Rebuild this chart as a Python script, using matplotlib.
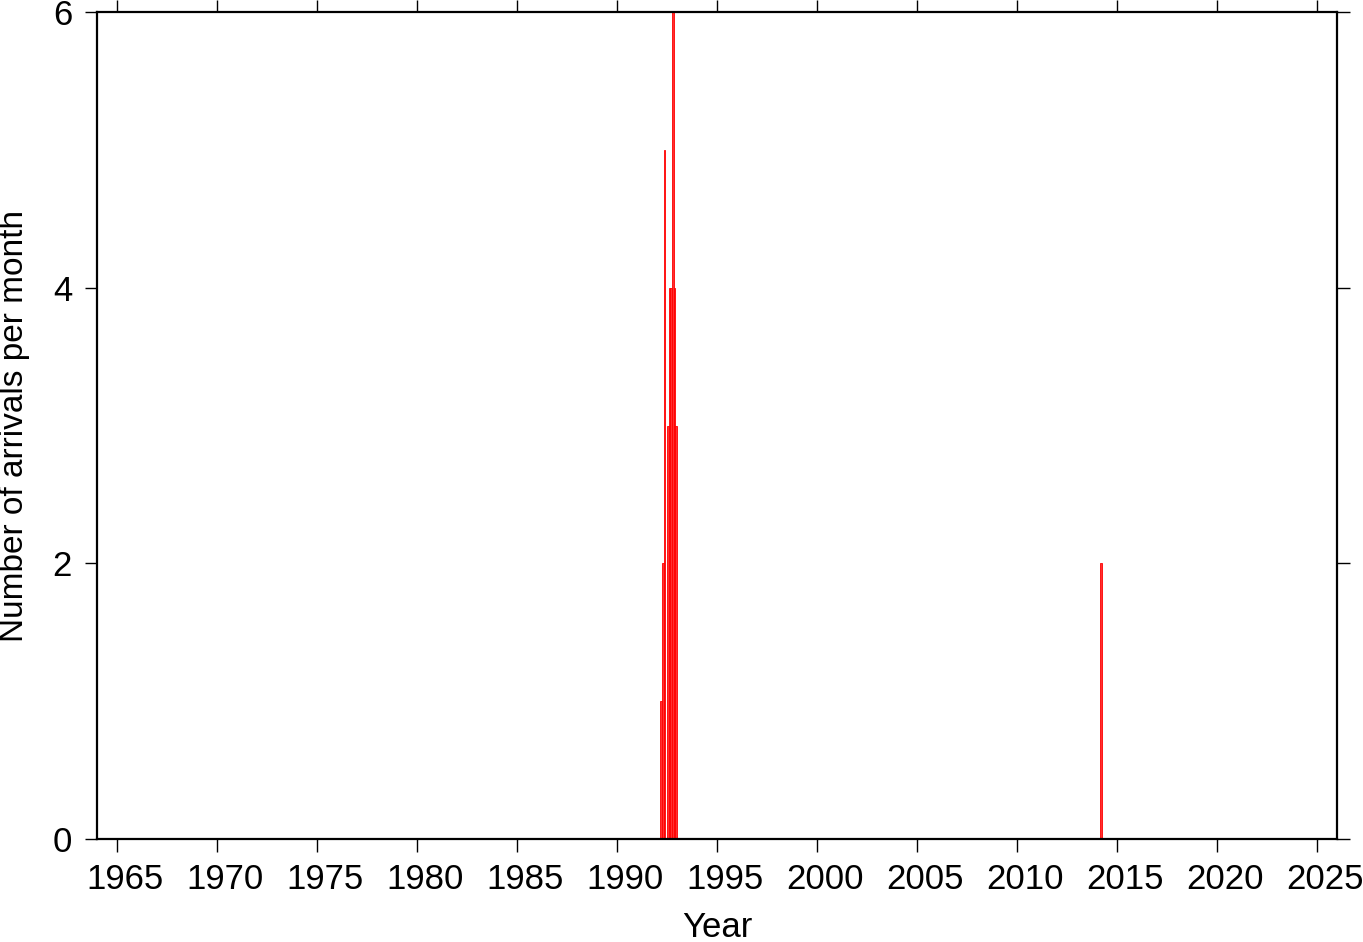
import matplotlib
matplotlib.use("Agg")
import matplotlib.pyplot as plt
import matplotlib.transforms as mtransforms
import numpy as np

plt.rcParams['font.family'] = ['Liberation Sans', 'DejaVu Sans']

# Monthly arrival counts (decimal year of month start, count)
years = [1992, 1992, 1992, 1992, 1992, 1992, 1992, 1992, 1992, 2014]
months = [3, 4, 5, 7, 8, 9, 10, 11, 12, 3]
counts = [1, 2, 5, 3, 4, 4, 6, 4, 3, 2]

x_ticks = list(range(1965, 2026, 5))
y_ticks = [0, 2, 4, 6]

t = np.array(years) + (np.array(months) - 1) / 12.0

fig = plt.figure(figsize=(13.63, 9.42), dpi=100)
ax = fig.add_axes([0.0712, 0.1093, 0.9098, 0.878])
ax.bar(t, counts, width=1/12, align='edge', color='#ff3030', edgecolor='#ff0000', linewidth=0.6)
ax.set_xlim(1964, 2026)
ax.set_ylim(0, 6)
ax.set_xticks(x_ticks)
ax.set_yticks(y_ticks)
ax.tick_params(axis='both', direction='out', length=9, width=1, labelsize=25,
               top=True, right=True, labeltop=False, labelright=False)
ax.tick_params(axis='x', pad=8)
ax.tick_params(axis='y', pad=9)
off = mtransforms.ScaledTranslation(8/100, 0, fig.dpi_scale_trans)
for lab in ax.get_xticklabels():
    lab.set_transform(lab.get_transform() + off)
for s in ax.spines.values():
    s.set_linewidth(1.6)
ax.set_xlabel('Year', fontsize=25, labelpad=11)
ax.set_ylabel('Number of arrivals per month', fontsize=24, labelpad=16)
fig.savefig('out.png', dpi=100)
